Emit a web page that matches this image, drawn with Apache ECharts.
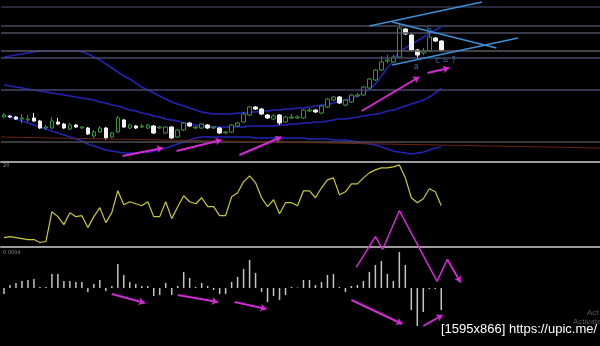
<!DOCTYPE html>
<html><head><meta charset="utf-8">
<script src="https://cdn.jsdelivr.net/npm/echarts@6/dist/echarts.min.js"></script>
<style>html,body{margin:0;padding:0;background:#000;}#c{width:600px;height:346px;}</style>
</head><body><div id="c"></div>
<script>
// ---------- DATA ----------
const categories = Array.from({length: 100}, (_, i) => 'Bar ' + (i + 1));
// [open, close, low, high]
const candles = [
[63,65,62,67],[64,63,62,65],[63,61,60,64],[61,62,57,66],[60,61,58,65],[62,59,58,67],[59,52,51,60],[52,53,50,55],[52,59,51,63],[58,56,55,62],
[56,52,51,57],[51,55,50,57],[55,53,52,56],[52,53,51,54],[52,46,45,53],[44,48,42,50],[48,52,47,54],[52,42,40,53],[43,47,42,48],[48,62,47,64],
[60,53,52,61],[52,55,51,56],[54,52,51,55],[53,54,52,56],[52,55,51,56],[54,47,46,55],[52,53,51,54],[47,53,46,54],[53,42,41,54],[43,50,42,51],
[50,57,49,58],[57,54,53,58],[52,53,51,54],[52,56,51,57],[55,52,51,56],[52,53,51,54],[52,47,46,53],[47,48,46,49],[48,55,47,56],[54,57,53,58],
[58,66,57,68],[65,73,64,74],[73,71,70,74],[71,66,65,72],[65,62,61,66],[61,64,60,66],[65,57,55,66],[58,63,57,64],[62,63,61,66],[62,63,61,65],
[62,70,61,71],[69,70,68,72],[70,68,67,71],[67,74,66,75],[73,81,72,82],[80,83,79,84],[83,77,76,84],[75,80,74,81],[78,85,77,86],[84,85,83,87],
[85,93,84,94],[92,101,91,102],[100,110,99,111],[110,118,109,124],[119,120,117,125],[118,123,117,125],[123,152,122,157],[151,146,145,152],[145,130,129,146],[130,125,120,131],
[127,129,125,132],[129,143,128,147],[142,139,138,143],[139,130,129,140]
];
const upperBand = [123,124,125,126,127,128,129,129,129,129,129,129,129,128,126,123,120,116,112,108,104,101,97,93,90,87,84,81,78,76,74,72,70,68,67,66,66,66,66,67,67,68,68,69,69,70,70,71,71,72,72,73,74,75,76,77,79,80,82,84,87,91,96,104,112,119,128,132,136,139,143,146,150,153];
const middleBand = [95,94,93,92,91,90,89,88,87,86,85,84,83,82,81,80,78,77,75,74,72,70,69,67,66,64,63,61,60,59,57,56,55,54,53,53,53,53,53,53,53,54,54,54,54,54,55,55,56,56,57,57,58,58,59,60,61,61,62,63,64,65,66,67,69,70,72,74,76,78,80,83,87,92];
const lowerBand = [65,63,61,59,57,55,53,51,49,47,45,43,41,39,36,34,32,30,29,28,27,27,27,28,28,29,31,32,34,36,38,40,42,43,43,43,43,43,43,43,43,43,42,42,42,42,42,42,42,42,42,41,41,41,41,40,40,40,39,38,37,36,35,33,31,29,28,27,26,27,28,30,32,33];
const oscillator = [9,10,9,8,7,7,4,5,35,30,22,34,30,31,19,30,39,24,34,56,42,45,43,41,45,30,30,45,28,40,51,45,43,49,40,40,31,31,50,54,65,71,64,49,40,47,33,44,44,41,56,56,49,59,67,69,52,55,63,63,69,74,77,79,79,80,82,69,49,44,48,58,55,41];
const histogram = [-6,3,5,7,8,9,1,1,14,14,7,7,6,6,-4,4,8,-3,2,24,13,6,4,2,2,-8,-7,5,-7,2,16,10,1,5,2,-2,-6,-6,6,11,19,28,15,-4,-14,-8,-12,-7,1,0.5,8,8,3,6,13,14,1,-4,2,3,7,16,23,27,14,7,36,23,-22,-38,-24,-1,-1,-22];
const priceLevels = [173,154,147,129,122,90,38];
const levelColors = ['#34374f','#45485c','#4c4f60','#5a5a5e','#46496a','#45476a','#4e4e52'];
const baseLine = [[-0.5,43],[99.5,32]];
const trendLines = [[[61,154],[79.8,178]],[[64.8,158],[82.2,132]],[[64.8,115],[85.8,142]]];
const waveLabels = [['b',71,149],['a',68.8,113],['c = ?',73.7,119]];
const priceArrows = [[[19.8,24],[26.5,32]],[[28.8,29],[36.3,40]],[[39.3,25],[46.3,43]],[[59.7,69],[69.3,103]],[[70.7,107],[74.3,112]]];
const zigzag = [[58.8,-21],[62,10],[63.2,-3],[66,36],[72.3,-35],[74,-13],[76.2,-36]];
const histArrows = [[[18,-6],[23.5,-15]],[[29,-7],[35.7,-14]],[[38.5,-14],[43.8,-21]],[[58,-12],[66.5,-36]],[[70,-38],[73.2,-27]]];

// ---------- CHART ----------
const MAG = '#d42ad4', CYAN = '#3c8fd6', BAND = '#2424b4';
const chart = echarts.init(document.getElementById('c'), null, {renderer: 'canvas'});
const seg = (pairs, color, w, arrow) => pairs.map(p => [
  {coord: p[0], lineStyle: {color, width: w, type: 'solid'}, symbol: 'none'},
  {coord: p[1], symbol: arrow ? 'arrow' : 'none', symbolSize: 6}
]);
const hideAxis = {show: false};
const option = {
  backgroundColor: '#000',
  animation: false,
  grid: [
    {left: 1, width: 600, top: 0, height: 162},
    {left: 1, width: 600, top: 147, height: 200},
    {left: 1, width: 600, top: 247, height: 99}
  ],
  xAxis: [
    {type: 'category', data: categories, gridIndex: 0, axisLine: {show: true, onZero: false, lineStyle: {color: '#9c9c9c', width: 2}}, axisTick: {show: false}, axisLabel: {show: false}, splitLine: {show: false}},
    {type: 'value', gridIndex: 0, min: -0.5, max: 99.5, show: false},
    {type: 'category', data: categories, gridIndex: 1, show: false},
    {type: 'value', gridIndex: 1, min: -0.5, max: 99.5, show: false},
    {type: 'category', data: categories, gridIndex: 2, position: 'top', axisLine: {show: true, onZero: false, lineStyle: {color: '#9c9c9c', width: 2}}, axisTick: {show: false}, axisLabel: {show: false}, splitLine: {show: false}},
    {type: 'value', gridIndex: 2, min: -0.5, max: 99.5, show: false}
  ],
  yAxis: [
    {type: 'value', gridIndex: 0, min: 18, max: 180, show: false, splitLine: {show: false}},
    {type: 'value', gridIndex: 1, min: -100, max: 100, show: false, splitLine: {show: false}},
    {type: 'value', gridIndex: 2, min: -58, max: 41, show: false, splitLine: {show: false}}
  ],
  series: [
    {type: 'line', xAxisIndex: 1, yAxisIndex: 0, data: [], silent: true, z: 1,
     markLine: {silent: true, animation: false, symbol: 'none', label: {show: false},
       data: priceLevels.map((v, i) => ({yAxis: v, lineStyle: {color: levelColors[i], width: 1.6, type: 'solid'}}))
         .concat([[{coord: baseLine[0], lineStyle: {color: '#6a2414', width: 1.2, type: 'solid'}}, {coord: baseLine[1]}]])}},
    {type: 'line', xAxisIndex: 0, yAxisIndex: 0, data: upperBand, smooth: true, showSymbol: false, lineStyle: {color: BAND, width: 1.6}, z: 2},
    {type: 'line', xAxisIndex: 0, yAxisIndex: 0, data: middleBand, smooth: true, showSymbol: false, lineStyle: {color: BAND, width: 1.6}, z: 2},
    {type: 'line', xAxisIndex: 0, yAxisIndex: 0, data: lowerBand, smooth: true, showSymbol: false, lineStyle: {color: BAND, width: 1.6}, z: 2},
    {type: 'candlestick', xAxisIndex: 0, yAxisIndex: 0, data: candles, barWidth: 4, z: 3,
     itemStyle: {color: '#000', color0: '#f2f2f2', borderColor: '#2f9a2f', borderColor0: '#f2f2f2', borderWidth: 1}},
    {type: 'line', xAxisIndex: 1, yAxisIndex: 0, data: [], silent: true, z: 4,
     markLine: {silent: true, animation: false, label: {show: false},
       data: seg(trendLines, CYAN, 1.5, false).concat(seg(priceArrows, MAG, 2, true))}},
    {type: 'scatter', xAxisIndex: 1, yAxisIndex: 0, symbolSize: 1, itemStyle: {color: 'rgba(0,0,0,0)'}, z: 5,
     data: waveLabels.map(w => ({value: [w[1], w[2]], name: w[0]})),
     label: {show: true, position: 'inside', formatter: p => p.name, color: CYAN, fontSize: 8, fontFamily: 'DejaVu Sans'}},
    {type: 'line', xAxisIndex: 2, yAxisIndex: 1, data: oscillator, showSymbol: false, lineStyle: {color: '#c9c93a', width: 1.2}, z: 3},
    {type: 'line', xAxisIndex: 3, yAxisIndex: 1, data: zigzag, showSymbol: false, clip: false, lineStyle: {color: MAG, width: 1.5}, z: 6,
     markLine: {silent: true, animation: false, label: {show: false},
       data: [[{coord: zigzag[zigzag.length - 2], symbol: 'none', lineStyle: {color: MAG, width: 1.5, type: 'solid'}}, {coord: zigzag[zigzag.length - 1], symbol: 'arrow', symbolSize: 6}]]}},
    {type: 'bar', xAxisIndex: 4, yAxisIndex: 2, data: histogram, barWidth: 1.5, itemStyle: {color: '#c4c4c4'}, z: 3},
    {type: 'line', xAxisIndex: 5, yAxisIndex: 2, data: [], silent: true, z: 4,
     markLine: {silent: true, animation: false, label: {show: false}, data: seg(histArrows, MAG, 2, true)}}
  ],
  graphic: [
    {type: 'text', left: 3, top: 163, style: {text: '20', fill: '#8a8a8a', font: '5px DejaVu Sans'}},
    {type: 'text', left: 3, top: 250, style: {text: '0.0004', fill: '#8a8a8a', font: '5px DejaVu Sans'}},
    {type: 'text', left: 587, top: 309, style: {text: 'Act', fill: '#5a5a5a', font: '8px Liberation Sans'}},
    {type: 'text', left: 573, top: 318, style: {text: 'Activate', fill: '#5a5a5a', font: '8px Liberation Sans'}},
    {type: 'text', left: 441, top: 323, style: {text: '[1595x866] https://upic.me/', fill: '#ffffff', font: '13px Liberation Sans'}}
  ]
};
chart.setOption(option);
</script></body></html>
